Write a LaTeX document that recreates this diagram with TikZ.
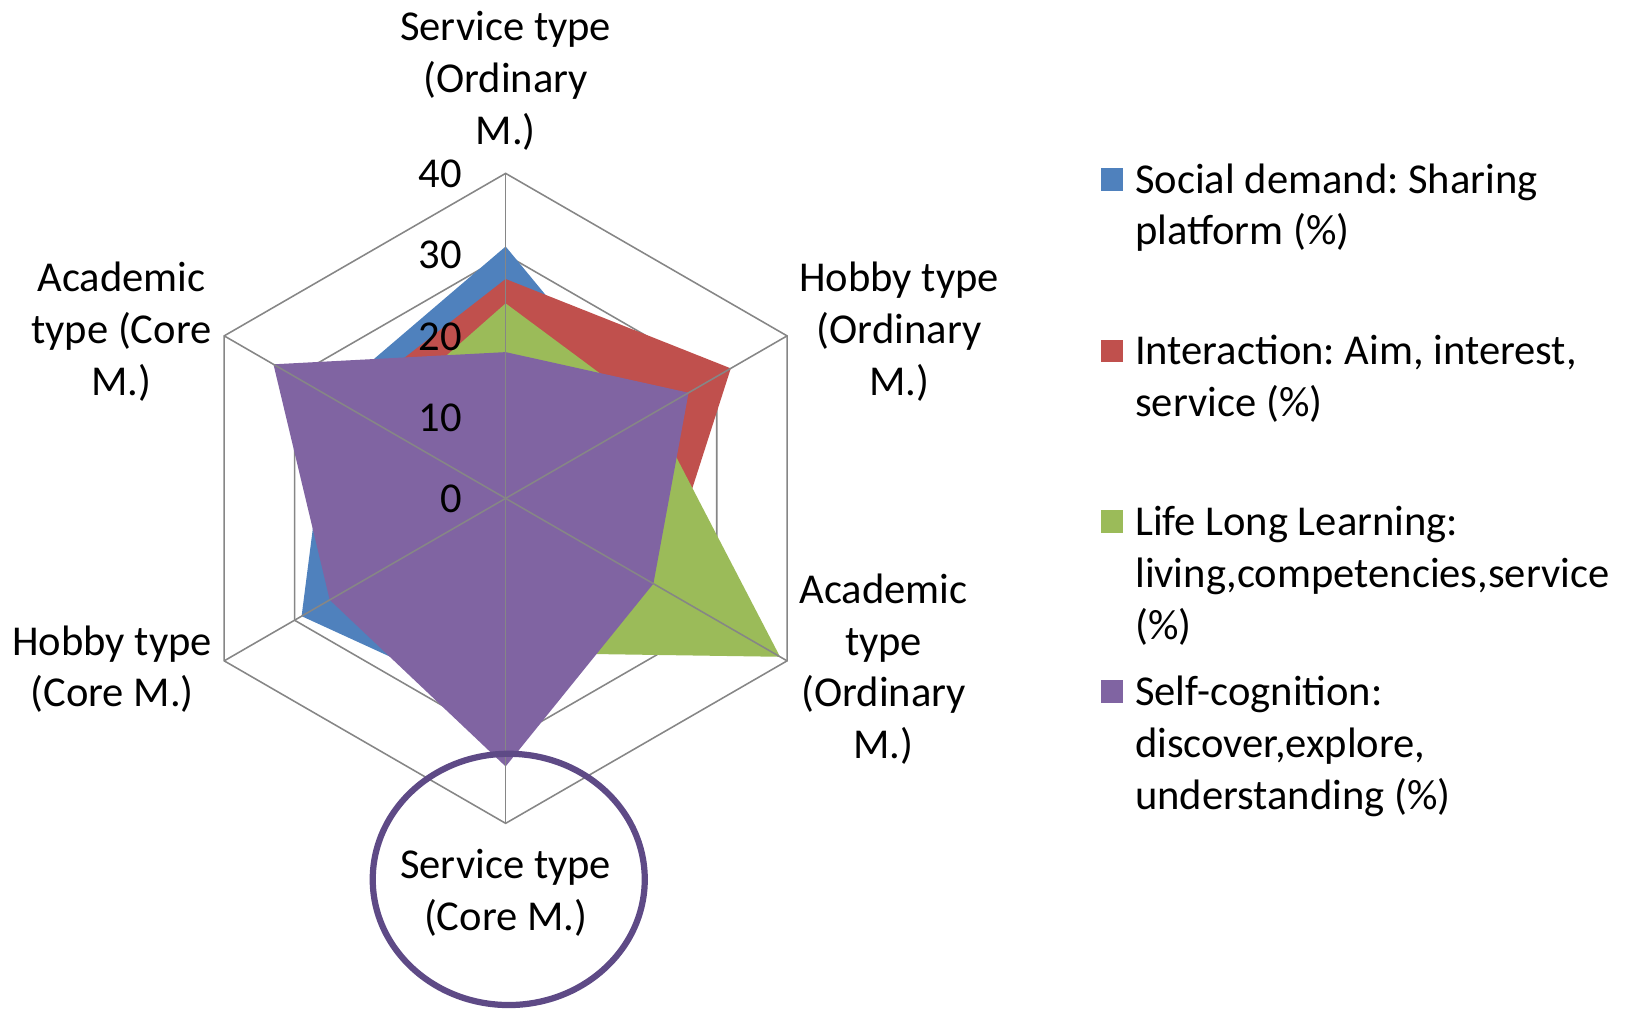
\documentclass[tikz,border=0pt]{standalone}
\usepackage{fontspec}
\setmainfont{Carlito}
\usepackage{xcolor}
\frenchspacing

\definecolor{socialblue}{HTML}{4F81BD}
\definecolor{interred}{HTML}{C0504D}
\definecolor{lifegreen}{HTML}{9BBB59}
\definecolor{selfpurple}{HTML}{8064A2}
\definecolor{ringpurple}{HTML}{5E4A86}
\definecolor{gridgray}{HTML}{868686}

\tikzset{
    gridline/.style={gridgray, line width=0.75pt},
    axislabel/.style={align=center, inner sep=0pt},
    legsq/.style={minimum size=11pt, inner sep=0pt},
    legtext/.style={align=left, anchor=west, inner sep=0pt}
}

\begin{document}
\begin{tikzpicture}[x=0.5pt, y=0.5pt, font=\fontsize{20.5}{25}\selectfont]

    \useasboundingbox (0,0) rectangle (1568,974);

    \begin{scope}[shift={(487,494)}]
    \def\u{7.825}

    % Draw the rings
    \foreach \r in {1,...,4} {
        \draw[gridline] (90:\r*10*\u) \foreach \a in {30,-30,-90,-150,150} { -- (\a:\r*10*\u) } -- cycle;
    }

    % Series
    \fill[socialblue] (90:31*\u) -- (30:20*\u) -- (-30:15*\u) -- (-90:26*\u) -- (-150:29*\u) -- (150:25*\u) -- cycle;
    \fill[interred] (90:27*\u) -- (30:32*\u) -- (-30:22*\u) -- (-90:20*\u) -- (-150:15*\u) -- (150:23*\u) -- cycle;
    \fill[lifegreen] (90:24*\u) -- (30:21*\u) -- (-30:39*\u) -- (-90:19*\u) -- (-150:15*\u) -- (150:19*\u) -- cycle;
    \fill[selfpurple] (90:18*\u) -- (30:26*\u) -- (-30:21*\u) -- (-90:33*\u) -- (-150:25*\u) -- (150:33*\u) -- cycle;

    % Spokes
    \coordinate (o) at (0,0);
    \foreach \a in {90,30,-30,-90,-150,150} {
        \draw[gridline] (o) -- (\a:40*\u);
    }

    % Value axis
    \foreach \v in {0,10,20,30,40} {
        \node[anchor=east, inner sep=0pt] (tick\v) at (-42,\v*\u-0.5) {\v};
    }
    \end{scope}

    % Category labels
    \node[axislabel] (servord) at (487,896.5) {Service type\\(Ordinary\\M.)};
    \node[axislabel] (hobbyord) at (866,654.5) {Hobby type\\(Ordinary\\M.)};
    \node[axislabel] (acadord) at (851,329.5) {Academic\\type\\(Ordinary\\M.)};
    \node[axislabel] (servcore) at (487,114.5) {Service type\\(Core M.)};
    \node[axislabel] (hobbycore) at (108,329.5) {Hobby type\\(Core M.)};
    \node[axislabel] (acadcore) at (117,654.5) {Academic\\type (Core\\M.)};

    \draw[ringpurple, line width=3pt] (490,127) ellipse (131 and 121);

    % Legend
    \node[legsq, fill=socialblue] (sq1) at (1071,801) {};
    \node[legsq, fill=interred] (sq2) at (1071,636) {};
    \node[legsq, fill=lifegreen] (sq3) at (1071,472) {};
    \node[legsq, fill=selfpurple] (sq4) at (1071,308) {};

    \node[legtext] (leg1) at (1093,774) {Social demand: Sharing\\platform (\%)};
    \node[legtext] (leg2) at (1093,609) {Interaction: Aim, interest,\\service (\%)};
    \node[legtext] (leg3) at (1093,419.5) {Life Long Learning:\\living,competencies,service\\(\%)};
    \node[legtext] (leg4) at (1093,255.5) {Self-cognition:\\discover,explore,\\understanding (\%)};

\end{tikzpicture}
\end{document}
